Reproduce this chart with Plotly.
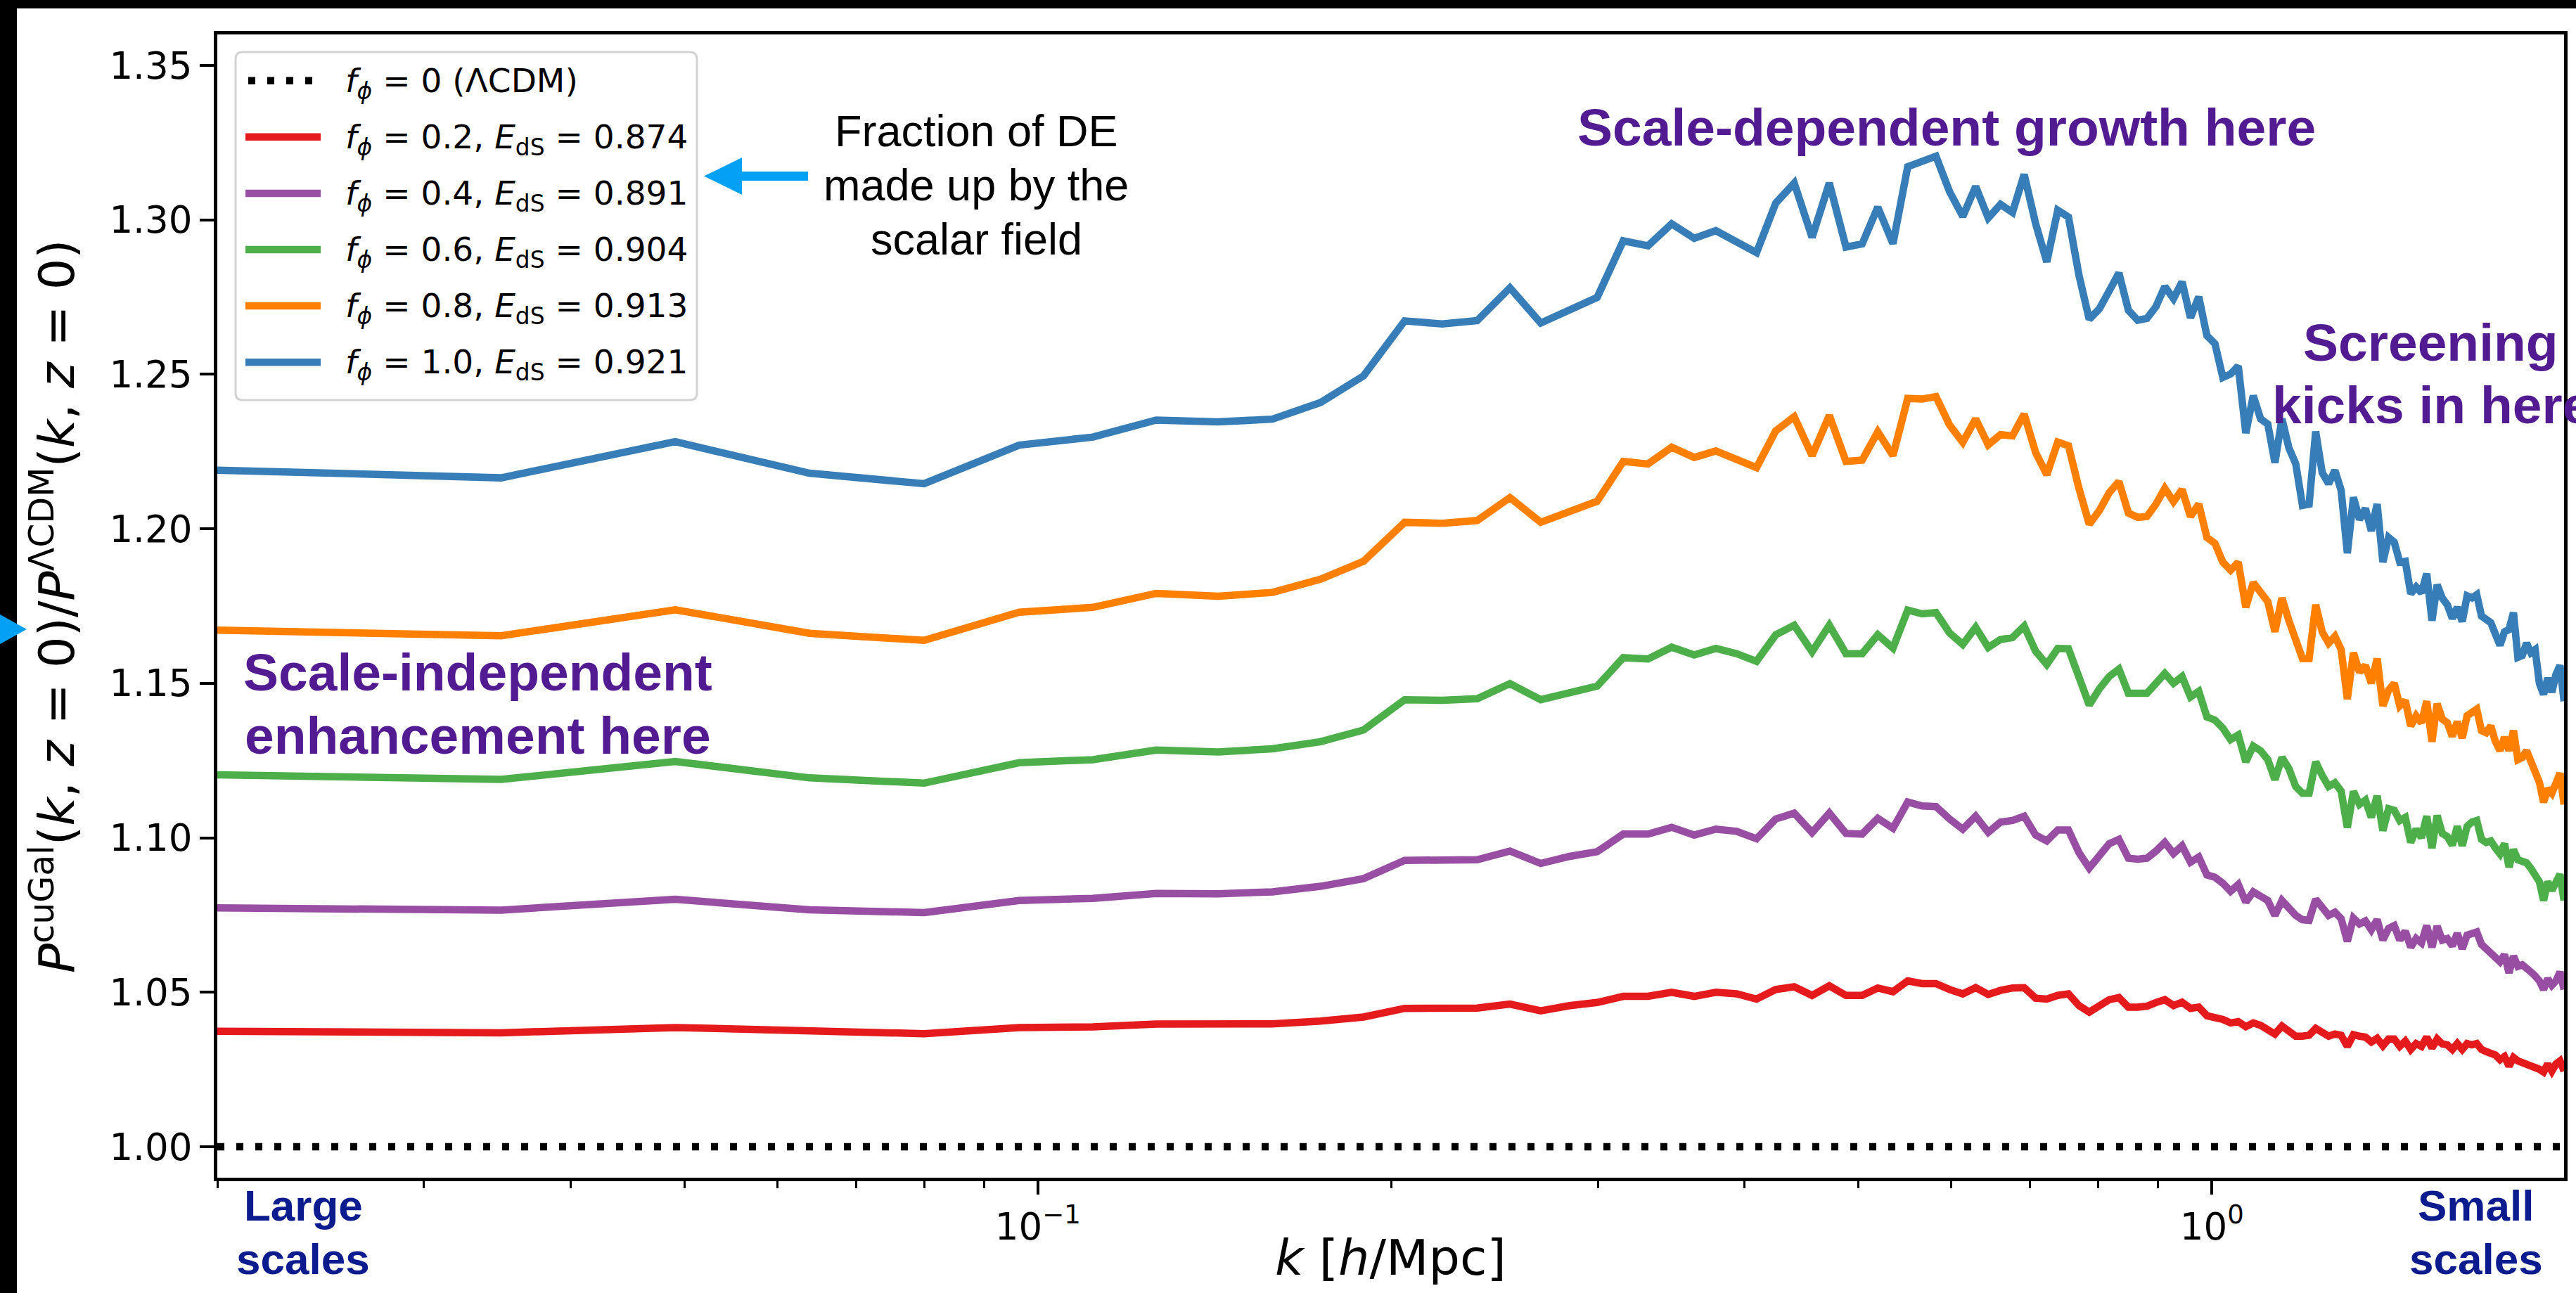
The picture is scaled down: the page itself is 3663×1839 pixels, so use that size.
import math
import plotly.graph_objects as go

# wavenumber bins k [h/Mpc]
k = [0.0200, 0.0349, 0.0491, 0.0639, 0.0800, 0.0964, 0.1114, 0.1261, 0.1424, 0.1584,
     0.1741, 0.1894, 0.2053, 0.2210, 0.2367, 0.2524, 0.2681, 0.2838, 0.2995, 0.3152,
     0.3309, 0.3466, 0.3623, 0.3780, 0.3937, 0.4094, 0.4251, 0.4408, 0.4565, 0.4722,
     0.4879, 0.5036, 0.5193, 0.5350, 0.5507, 0.5664, 0.5821, 0.5978, 0.6135, 0.6292,
     0.6449, 0.6606, 0.6763, 0.6920, 0.7077, 0.7234, 0.7391, 0.7548, 0.7705, 0.7862,
     0.8019, 0.8176, 0.8333, 0.8490, 0.8647, 0.8804, 0.8961, 0.9118, 0.9275, 0.9432,
     0.9589, 0.9746, 0.9903, 1.0060, 1.0217, 1.0374, 1.0531, 1.0688, 1.0845, 1.1002,
     1.1159, 1.1316, 1.1473, 1.1630, 1.1787, 1.1944, 1.2101, 1.2258, 1.2415, 1.2572,
     1.2729, 1.2886, 1.3043, 1.3200, 1.3357, 1.3514, 1.3671, 1.3828, 1.3985, 1.4142,
     1.4299, 1.4456, 1.4613, 1.4770, 1.4927, 1.5084, 1.5241, 1.5398, 1.5555, 1.5712,
     1.5869, 1.6026, 1.6183, 1.6340, 1.6497, 1.6654, 1.6811, 1.6968, 1.7125, 1.7282,
     1.7439, 1.7596, 1.7753, 1.7910, 1.8067, 1.8224, 1.8381, 1.8538, 1.8695, 1.8852,
     1.9009, 1.9166, 1.9323, 1.9480, 1.9637, 1.9794, 1.9951]

# P_cuGal / P_LCDM at z = 0 for each scalar-field fraction
ratio_f02 = [1.0374, 1.0369, 1.0386, 1.0374, 1.0366, 1.0386, 1.0388, 1.0397, 1.0395, 1.0398,
             1.0407, 1.0420, 1.0448, 1.0448, 1.0449, 1.0462, 1.0440, 1.0457, 1.0467, 1.0487,
             1.0487, 1.0500, 1.0487, 1.0500, 1.0495, 1.0478, 1.0509, 1.0518, 1.0490, 1.0521,
             1.0490, 1.0490, 1.0514, 1.0502, 1.0537, 1.0528, 1.0528, 1.0509, 1.0495, 1.0515,
             1.0493, 1.0506, 1.0514, 1.0515, 1.0481, 1.0478, 1.0490, 1.0495, 1.0457, 1.0436,
             1.0457, 1.0476, 1.0483, 1.0452, 1.0452, 1.0455, 1.0467, 1.0476, 1.0457, 1.0468,
             1.0448, 1.0452, 1.0424, 1.0419, 1.0412, 1.0401, 1.0405, 1.0389, 1.0401, 1.0393,
             1.0382, 1.0365, 1.0391, 1.0377, 1.0358, 1.0358, 1.0361, 1.0383, 1.0372, 1.0358,
             1.0365, 1.0361, 1.0325, 1.0363, 1.0358, 1.0355, 1.0339, 1.0351, 1.0327, 1.0349,
             1.0349, 1.0325, 1.0342, 1.0315, 1.0334, 1.0325, 1.0355, 1.0320, 1.0349, 1.0333,
             1.0330, 1.0315, 1.0334, 1.0315, 1.0334, 1.0330, 1.0334, 1.0315, 1.0308, 1.0304,
             1.0297, 1.0282, 1.0292, 1.0261, 1.0289, 1.0278, 1.0273, 1.0268, 1.0264, 1.0259,
             1.0251, 1.0242, 1.0268, 1.0245, 1.0268, 1.0278, 1.0245]

ratio_f04 = [1.0773, 1.0766, 1.0801, 1.0767, 1.0758, 1.0797, 1.0804, 1.0820, 1.0819, 1.0825,
             1.0843, 1.0868, 1.0927, 1.0927, 1.0929, 1.0957, 1.0917, 1.0940, 1.0955, 1.1012,
             1.1012, 1.1034, 1.1009, 1.1028, 1.1021, 1.0997, 1.1061, 1.1080, 1.1017, 1.1080,
             1.1014, 1.1012, 1.1063, 1.1031, 1.1116, 1.1103, 1.1101, 1.1061, 1.1028, 1.1070,
             1.1018, 1.1051, 1.1056, 1.1070, 1.1009, 1.0990, 1.1025, 1.1025, 1.0952, 1.0902,
             1.0943, 1.0981, 1.0995, 1.0934, 1.0931, 1.0934, 1.0957, 1.0985, 1.0949, 1.0974,
             1.0921, 1.0938, 1.0880, 1.0872, 1.0853, 1.0827, 1.0849, 1.0792, 1.0825, 1.0811,
             1.0797, 1.0749, 1.0797, 1.0773, 1.0749, 1.0735, 1.0733, 1.0801, 1.0778, 1.0749,
             1.0759, 1.0738, 1.0665, 1.0740, 1.0721, 1.0731, 1.0702, 1.0735, 1.0669, 1.0707,
             1.0716, 1.0669, 1.0698, 1.0646, 1.0674, 1.0660, 1.0716, 1.0646, 1.0714, 1.0669,
             1.0674, 1.0650, 1.0691, 1.0641, 1.0685, 1.0693, 1.0695, 1.0655, 1.0641, 1.0632,
             1.0617, 1.0599, 1.0622, 1.0563, 1.0617, 1.0584, 1.0589, 1.0580, 1.0566, 1.0553,
             1.0537, 1.0509, 1.0544, 1.0523, 1.0537, 1.0566, 1.0509]

ratio_f06 = [1.1204, 1.1189, 1.1247, 1.1194, 1.1177, 1.1243, 1.1253, 1.1284, 1.1278, 1.1288,
             1.1311, 1.1349, 1.1447, 1.1445, 1.1450, 1.1499, 1.1447, 1.1472, 1.1491, 1.1583,
             1.1579, 1.1617, 1.1592, 1.1613, 1.1596, 1.1571, 1.1657, 1.1688, 1.1602, 1.1688,
             1.1596, 1.1596, 1.1657, 1.1614, 1.1737, 1.1725, 1.1729, 1.1663, 1.1626, 1.1681,
             1.1616, 1.1642, 1.1648, 1.1685, 1.1604, 1.1561, 1.1613, 1.1612, 1.1522, 1.1430,
             1.1482, 1.1522, 1.1546, 1.1468, 1.1468, 1.1468, 1.1500, 1.1532, 1.1500, 1.1522,
             1.1456, 1.1474, 1.1391, 1.1381, 1.1355, 1.1318, 1.1333, 1.1246, 1.1297, 1.1282,
             1.1253, 1.1188, 1.1260, 1.1224, 1.1166, 1.1144, 1.1144, 1.1246, 1.1202, 1.1166,
             1.1178, 1.1151, 1.1033, 1.1150, 1.1108, 1.1122, 1.1066, 1.1136, 1.1023, 1.1094,
             1.1089, 1.1056, 1.1066, 1.0985, 1.1028, 1.1000, 1.1070, 1.0967, 1.1072, 1.1014,
             1.1004, 1.0976, 1.1037, 1.0974, 1.1037, 1.1051, 1.1056, 1.0995, 1.0985, 1.0990,
             1.0967, 1.0948, 1.0981, 1.0905, 1.0962, 1.0929, 1.0924, 1.0919, 1.0901, 1.0882,
             1.0858, 1.0797, 1.0858, 1.0830, 1.0863, 1.0882, 1.0797]

ratio_f08 = [1.1672, 1.1654, 1.1738, 1.1662, 1.1639, 1.1730, 1.1746, 1.1791, 1.1782, 1.1794,
             1.1837, 1.1895, 1.2021, 1.2018, 1.2027, 1.2101, 1.2021, 1.2058, 1.2089, 1.2218,
             1.2210, 1.2264, 1.2231, 1.2252, 1.2227, 1.2198, 1.2317, 1.2363, 1.2237, 1.2367,
             1.2218, 1.2222, 1.2314, 1.2237, 1.2422, 1.2420, 1.2428, 1.2336, 1.2280, 1.2356,
             1.2272, 1.2305, 1.2301, 1.2371, 1.2247, 1.2175, 1.2281, 1.2269, 1.2131, 1.2015,
             1.2059, 1.2117, 1.2153, 1.2051, 1.2037, 1.2040, 1.2080, 1.2131, 1.2088, 1.2127,
             1.2040, 1.2080, 1.1972, 1.1953, 1.1892, 1.1866, 1.1892, 1.1746, 1.1826, 1.1790,
             1.1764, 1.1667, 1.1776, 1.1703, 1.1638, 1.1580, 1.1580, 1.1754, 1.1667, 1.1630,
             1.1652, 1.1609, 1.1449, 1.1599, 1.1536, 1.1558, 1.1500, 1.1580, 1.1427, 1.1478,
             1.1500, 1.1427, 1.1444, 1.1362, 1.1395, 1.1372, 1.1442, 1.1311, 1.1434, 1.1384,
             1.1372, 1.1328, 1.1376, 1.1323, 1.1395, 1.1405, 1.1416, 1.1347, 1.1340, 1.1362,
             1.1311, 1.1282, 1.1326, 1.1282, 1.1347, 1.1253, 1.1260, 1.1282, 1.1246, 1.1224,
             1.1180, 1.1115, 1.1159, 1.1144, 1.1173, 1.1209, 1.1108]

ratio_f10 = [1.2190, 1.2165, 1.2282, 1.2180, 1.2146, 1.2271, 1.2297, 1.2352, 1.2346, 1.2355,
             1.2409, 1.2495, 1.2673, 1.2663, 1.2674, 1.2780, 1.2666, 1.2712, 1.2749, 1.2932,
             1.2916, 1.2987, 1.2940, 1.2965, 1.2926, 1.2894, 1.3054, 1.3119, 1.2943, 1.3119,
             1.2912, 1.2922, 1.3041, 1.2923, 1.3172, 1.3190, 1.3206, 1.3091, 1.3011, 1.3108,
             1.3006, 1.3050, 1.3024, 1.3147, 1.2988, 1.2864, 1.3031, 1.3009, 1.2821, 1.2678,
             1.2712, 1.2770, 1.2828, 1.2707, 1.2675, 1.2681, 1.2719, 1.2784, 1.2745, 1.2799,
             1.2683, 1.2751, 1.2625, 1.2599, 1.2490, 1.2501, 1.2527, 1.2310, 1.2431, 1.2356,
             1.2339, 1.2214, 1.2356, 1.2262, 1.2211, 1.2076, 1.2080, 1.2315, 1.2182, 1.2146,
             1.2189, 1.2124, 1.1921, 1.2102, 1.2030, 1.2066, 1.1993, 1.2080, 1.1892, 1.1972,
             1.1957, 1.1892, 1.1895, 1.1790, 1.1812, 1.1793, 1.1855, 1.1703, 1.1819, 1.1776,
             1.1754, 1.1710, 1.1746, 1.1700, 1.1783, 1.1776, 1.1787, 1.1718, 1.1703, 1.1696,
             1.1659, 1.1623, 1.1667, 1.1674, 1.1729, 1.1584, 1.1590, 1.1630, 1.1599, 1.1609,
             1.1500, 1.1464, 1.1517, 1.1471, 1.1529, 1.1558, 1.1442]

# LCDM reference (ratio of unity)
ref_k = [k[0], k[-1]]
ref_ratio = [1.0, 1.0]

f_phi = [0.2, 0.4, 0.6, 0.8, 1.0]
e_ds = [0.874, 0.891, 0.904, 0.913, 0.921]
series = [ratio_f02, ratio_f04, ratio_f06, ratio_f08, ratio_f10]
colors = ["#e41a1c", "#984ea3", "#4daf4a", "#ff7f00", "#377eb8"]

y_ticks = [1.00, 1.05, 1.10, 1.15, 1.20, 1.25, 1.30, 1.35]
x_ticks = [0.1, 1.0]
x_ticklabels = ["10<sup>−1</sup>", "10<sup>0</sup>"]
x_minor = [0.02, 0.03, 0.04, 0.05, 0.06, 0.07, 0.08, 0.09,
           0.2, 0.3, 0.4, 0.5, 0.6, 0.7, 0.8, 0.9, 2.0]

# page geometry (pixels)
W, H = 3663, 1839
PL, PR, PT, PB = 309, 3646, 49, 1675


def px(x):
    return (x - PL) / (PR - PL)


def py(y):
    return (PB - y) / (PB - PT)


MATH = "DejaVu Sans"
SANS = "Liberation Sans"
PURPLE = "#521b92"
NAVY = "#0c1c8e"
ARROW = "#03a1f6"
LINE_W = 10.5

fig = go.Figure()

fig.add_trace(go.Scatter(x=ref_k, y=ref_ratio, mode="lines",
                         line=dict(color="black", width=10.5, dash="10px,17px"),
                         hoverinfo="skip"))
for vals, col in zip(series, colors):
    fig.add_trace(go.Scatter(x=k, y=vals, mode="lines",
                             line=dict(color=col, width=LINE_W),
                             hoverinfo="skip"))

fig.update_layout(
    width=W, height=H,
    margin=dict(l=PL, r=W - PR, t=PT, b=H - PB),
    paper_bgcolor="white", plot_bgcolor="white",
    showlegend=False,
)

fig.update_xaxes(
    type="log",
    range=[math.log10(0.02), math.log10(k[-1])],
    showgrid=False, zeroline=False,
    showline=True, linecolor="black", linewidth=5, mirror=True,
    ticks="outside", ticklen=19, tickwidth=4, tickcolor="black",
    tickmode="array", tickvals=x_ticks, ticktext=x_ticklabels,
    tickfont=dict(family=MATH, size=53, color="black"),
    minor=dict(tickmode="array", tickvals=x_minor, ticks="outside",
               ticklen=10, tickwidth=3, tickcolor="black", showgrid=False),
)
fig.update_yaxes(
    range=[0.99, 1.36],
    showgrid=False, zeroline=False,
    showline=True, linecolor="black", linewidth=5, mirror=True,
    ticks="outside", ticklen=20, tickwidth=4, tickcolor="black",
    tickmode="array", tickvals=y_ticks, tickformat=".2f",
    tickfont=dict(family=MATH, size=53, color="black"),
)

shapes = []
annotations = []

# black frame strips along the top and left edges
shapes.append(dict(type="rect", xref="paper", yref="paper",
                   x0=px(0), x1=px(24), y0=py(H), y1=py(0),
                   fillcolor="black", line=dict(width=0), layer="above"))
shapes.append(dict(type="rect", xref="paper", yref="paper",
                   x0=px(0), x1=px(W), y0=py(12), y1=py(0),
                   fillcolor="black", line=dict(width=0), layer="above"))


def poly(points):
    d = "M " + " L ".join(f"{px(x):.6f},{py(y):.6f}" for x, y in points) + " Z"
    return d


# arrow pointing from the note towards the legend
shapes.append(dict(type="path", xref="paper", yref="paper",
                   path=poly([(1001, 250.5), (1055, 224), (1055, 244), (1149, 244),
                              (1149, 257), (1055, 257), (1055, 277)]),
                   fillcolor=ARROW, line=dict(width=0), layer="above"))
# arrow head at the left edge
shapes.append(dict(type="path", xref="paper", yref="paper",
                   path=poly([(0, 874), (38, 895), (0, 916)]),
                   fillcolor=ARROW, line=dict(width=0), layer="above"))

# legend box with rounded corners
LX0, LX1, LY0, LY1, R = 335, 991, 74, 569, 10
rx, ry = R / (PR - PL), R / (PB - PT)
x0, x1, yt, yb = px(LX0), px(LX1), py(LY0), py(LY1)
legend_path = (f"M {x0+rx},{yt} L {x1-rx},{yt} Q {x1},{yt} {x1},{yt-ry} "
               f"L {x1},{yb+ry} Q {x1},{yb} {x1-rx},{yb} L {x0+rx},{yb} "
               f"Q {x0},{yb} {x0},{yb+ry} L {x0},{yt-ry} Q {x0},{yt} {x0+rx},{yt} Z")
shapes.append(dict(type="path", xref="paper", yref="paper", path=legend_path,
                   fillcolor="white", line=dict(color="#d3d3d3", width=3),
                   layer="above"))

legend_labels = ["<i>f</i><sub><i>ϕ</i></sub> = 0 (ΛCDM)"]
for f, e in zip(f_phi, e_ds):
    legend_labels.append(f"<i>f</i><sub><i>ϕ</i></sub> = {f:.1f}, "
                         f"<i>E</i><sub>dS</sub> = {e:.3f}")
legend_colors = ["black"] + colors
ROW0, ROWSTEP = 114.7, 80.1
for i, (lab, col) in enumerate(zip(legend_labels, legend_colors)):
    ry_ = ROW0 + i * ROWSTEP
    line = dict(color=col, width=LINE_W)
    if i == 0:
        line["dash"] = "10px,17px"
    shapes.append(dict(type="line", xref="paper", yref="paper",
                       x0=px(353 if i == 0 else 349), x1=px(456),
                       y0=py(ry_), y1=py(ry_), line=line, layer="above"))
    annotations.append(dict(xref="paper", yref="paper", x=px(489), y=py(ry_ + 3),
                            xanchor="left", yanchor="middle", showarrow=False,
                            text=lab, font=dict(family=MATH, size=47, color="black")))

# axis titles
annotations.append(dict(xref="paper", yref="paper", x=px(1977), y=py(1789),
                        xanchor="center", yanchor="middle", showarrow=False,
                        text="<i>k</i> [<i>h</i>/Mpc]",
                        font=dict(family=MATH, size=70, color="black")))
annotations.append(dict(xref="paper", yref="paper", x=px(76), y=py(862),
                        xanchor="center", yanchor="middle", showarrow=False,
                        textangle=-90,
                        text="<i>P</i><sup>cuGal</sup>(<i>k</i>, <i>z</i> = 0)/"
                             "<i>P</i><sup>ΛCDM</sup>(<i>k</i>, <i>z</i> = 0)",
                        font=dict(family=MATH, size=70, color="black")))


def note(text, cx, cy, size, color, bold=True):
    annotations.append(dict(xref="paper", yref="paper", x=px(cx), y=py(cy),
                            xanchor="center", yanchor="middle", showarrow=False,
                            text=f"<b>{text}</b>" if bold else text,
                            font=dict(family=SANS, size=size, color=color)))


note("Scale-dependent growth here", 2768, 181, 75, PURPLE)
note("Screening", 3456, 487, 75, PURPLE)
note("kicks in here", 3458, 576, 75, PURPLE)
note("Scale-independent", 679, 956, 75, PURPLE)
note("enhancement here", 679, 1046, 75, PURPLE)
note("Fraction of DE", 1388, 186, 63, "black", bold=False)
note("made up by the", 1388, 263, 63, "black", bold=False)
note("scalar field", 1388, 340, 63, "black", bold=False)
note("Large", 431, 1714, 62, NAVY)
note("scales", 431, 1790, 62, NAVY)
note("Small", 3520, 1714, 62, NAVY)
note("scales", 3521, 1790, 62, NAVY)

fig.update_layout(shapes=shapes, annotations=annotations)

fig.write_html("out.html")
